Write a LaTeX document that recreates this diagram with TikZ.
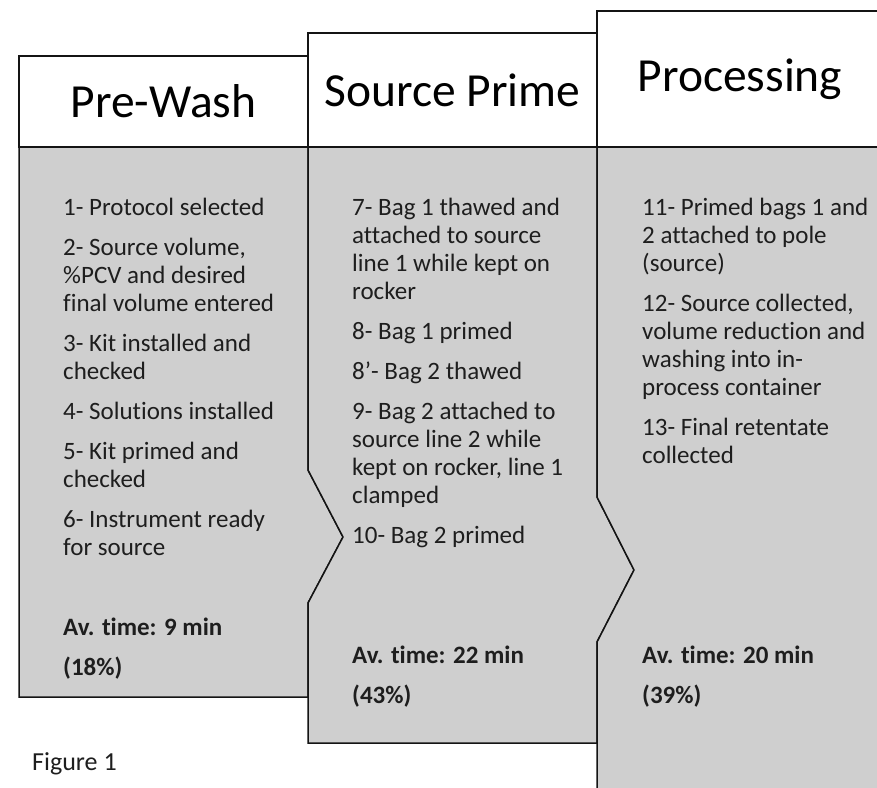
\documentclass[tikz,border=0pt]{standalone}
\usepackage{fontspec}
\setmainfont{Carlito}[Ligatures=NoCommon]
\usepackage{xcolor}
\usepackage{tikz}
\usetikzlibrary{positioning}
\definecolor{edgeblack}{RGB}{20,20,20}
\definecolor{panelgrey}{RGB}{207,207,207}
\definecolor{inkgrey}{RGB}{30,30,30}
\tikzset{
  stagehead/.style={draw=edgeblack,line width=1.5pt,fill=white,
    font=\fontsize{47.5}{57}\selectfont,inner sep=0pt},
  stagebody/.style={draw=edgeblack,line width=1.5pt,fill=panelgrey,line join=miter},
  steplist/.style={anchor=north west,align=left,inner sep=0pt,
    font=\fontsize{25}{28}\selectfont,text=inkgrey},
  timelist/.style={steplist,font=\fontsize{25}{28}\selectfont\bfseries},
  caption/.style={anchor=base west,inner sep=0pt,
    font=\fontsize{26}{30}\selectfont,text=inkgrey}
}
\begin{document}
\begin{tikzpicture}[x=1pt,y=-1pt]
  \useasboundingbox (0,0) rectangle (877,787);
  \clip (0,0) rectangle (877,787);
  % stage bodies
  \draw[stagebody] (19,147) -- (308,147) -- (308,470) -- (343,537)
    -- (308,603) -- (308,697) -- (19,697) -- cycle;
  \draw[stagebody] (308,147) -- (597,147) -- (597,497) -- (634,570)
    -- (597,642) -- (597,743) -- (308,743) -- (308,603) -- (343,537)
    -- (308,470) -- cycle;
  \draw[stagebody] (597,147) -- (900,147) -- (900,820) -- (597,820)
    -- (597,642) -- (634,570) -- (597,497) -- cycle;
  % stage headers
  \node[stagehead,minimum width=289pt,minimum height=91pt] (prewash) at (163.5,101.5) {Pre-Wash};
  \node[stagehead,minimum width=289pt,minimum height=114pt] (prime) at (452.5,90) {Source Prime};
  \node[stagehead,minimum width=286pt,minimum height=136pt] (processing) at (740,79) {Processing};
  % steps
  \node[steplist] (prewashsteps) at (63,195.4) {\strut1- Protocol selected\\[12pt]
    2- Source volume,\\\%PCV and desired\\final volume entered\\[12pt]
    3- Kit installed and\\checked\\[12pt]
    4- Solutions installed\\[12pt]
    5- Kit primed and\\checked\\[12pt]
    6- Instrument ready\\for source};
  \node[steplist] (primesteps) at (352,195.4) {\strut7- Bag 1 thawed and\\attached to source\\line 1 while kept on\\rocker\\[12pt]
    8- Bag 1 primed\\[12pt]
    8’- Bag 2 thawed\\[12pt]
    9- Bag 2 attached to\\source line 2 while\\kept on rocker, line 1\\clamped\\[12pt]
    10- Bag 2 primed};
  \node[steplist] (processingsteps) at (642,195.4) {\strut11- Primed bags 1 and\\2 attached to pole\\(source)\\[12pt]
    12- Source collected,\\volume reduction and\\washing into in-\\process container\\[12pt]
    13- Final retentate\\collected};
  % average times
  \node[timelist] (prewashtime) at (63,615.4) {\strut Av. time: 9 min\\[12pt](18\%)};
  \node[timelist] (primetime) at (352,643.4) {\strut Av. time: 22 min\\[12pt](43\%)};
  \node[timelist] (processingtime) at (642,643.4) {\strut Av. time: 20 min\\[12pt](39\%)};
  \node[caption] (figlabel) at (32,770) {Figure 1};
\end{tikzpicture}
\end{document}
